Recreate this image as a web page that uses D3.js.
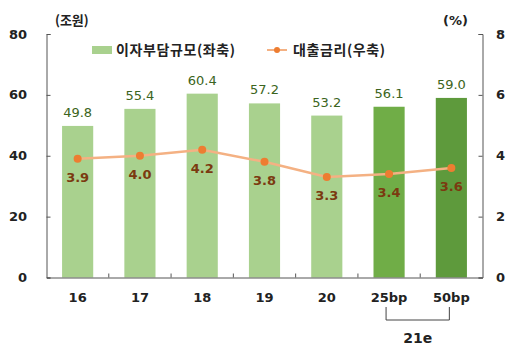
<!DOCTYPE html>
<html><head><meta charset="utf-8">
<script src="https://cdn.jsdelivr.net/npm/d3@7"></script>
<style>body{margin:0;background:#fff}svg{display:block;font-family:"DejaVu Sans",sans-serif}</style>
</head><body><svg id="c" width="512" height="355"></svg>
<script>
const categories = ["16","17","18","19","20","25bp","50bp"];
const burden = [49.8,55.4,60.4,57.2,53.2,56.1,59.0];
const rate = [3.9,4.0,4.2,3.8,3.3,3.4,3.6];
const leftTicks = [0,20,40,60,80];
const rightTicks = [0,2,4,6,8];
const barColors = ["#a9d18e","#a9d18e","#a9d18e","#a9d18e","#a9d18e","#70ad47","#5e9a3c"];

const svg = d3.select("#c");
const L=46.5, R=482.5, T=34, B=277.5;
const x = d3.scaleBand().domain(categories).range([L,R]).paddingInner(0.5).paddingOuter(0.25);
const yL = d3.scaleLinear().domain([0,80]).range([B,T]);
const yR = d3.scaleLinear().domain([0,8]).range([B,T]);

// bars
svg.selectAll("rect.bar").data(burden).join("rect")
  .attr("x",(d,i)=>x(categories[i])).attr("width",x.bandwidth())
  .attr("y",d=>yL(d)).attr("height",d=>B-yL(d)).attr("fill",(d,i)=>barColors[i]);

// axes
const axL = svg.append("g").attr("transform",`translate(${L},0)`)
  .call(d3.axisRight(yL).tickValues(leftTicks).tickSize(4).tickFormat(""));
const axR = svg.append("g").attr("transform",`translate(${R},0)`)
  .call(d3.axisLeft(yR).tickValues(rightTicks).tickSize(4).tickFormat(""));
[axL,axR].forEach(a=>{a.select(".domain").attr("stroke","#555");a.selectAll("line").attr("stroke","#555");});
// tick labels
svg.selectAll("text.yl").data(leftTicks).join("text").attr("class","yl")
  .attr("x",27).attr("y",d=>yL(d)).attr("dy","0.35em").attr("text-anchor","end")
  .attr("font-size",13).attr("font-weight","bold").attr("fill","#222").text(d=>d);
svg.selectAll("text.yr").data(rightTicks).join("text").attr("class","yr")
  .attr("x",496).attr("y",d=>yR(d)).attr("dy","0.35em").attr("text-anchor","start")
  .attr("font-size",13).attr("font-weight","bold").attr("fill","#222").text(d=>d);

// x axis
const step = x.step();
const ax = svg.append("g").attr("transform",`translate(0,${B})`)
  .call(d3.axisBottom(x).tickSize(0).tickPadding(15));
ax.select(".domain").attr("stroke","#555");
ax.selectAll("text").attr("font-size",13).attr("font-weight","bold").attr("fill","#222")
  .attr("font-family","DejaVu Sans");
svg.selectAll("line.xt").data(categories.slice(1)).join("line")
  .attr("x1",d=>x(d)+x.bandwidth()/2-step/2).attr("x2",d=>x(d)+x.bandwidth()/2-step/2)
  .attr("y1",B).attr("y2",B-4).attr("stroke","#555");

// line
const cx = i=>x(categories[i])+x.bandwidth()/2;
svg.append("path").datum(rate)
  .attr("d",d3.line().x((d,i)=>cx(i)).y(d=>yR(d)))
  .attr("fill","none").attr("stroke","#f4b183").attr("stroke-width",2.5);
svg.selectAll("circle.pt").data(rate).join("circle")
  .attr("cx",(d,i)=>cx(i)).attr("cy",d=>yR(d)).attr("r",4).attr("fill","#ed7d31");

// labels
svg.selectAll("text.bl").data(burden).join("text")
  .attr("x",(d,i)=>cx(i)).attr("y",d=>yL(d)-9).attr("text-anchor","middle")
  .attr("font-size",13).attr("fill","#3b6420").text(d=>d.toFixed(1));
svg.selectAll("text.rl").data(rate).join("text")
  .attr("x",(d,i)=>cx(i)).attr("y",d=>yR(d)+23).attr("text-anchor","middle")
  .attr("font-size",13).attr("font-weight","bold").attr("fill","#7b3a10").text(d=>d.toFixed(1));

// units
svg.append("text").attr("x",55).attr("y",25).attr("font-size",13).attr("font-weight","bold")
  .attr("font-family","Noto Sans CJK KR").attr("fill","#222").text("(조원)");
svg.append("text").attr("x",443).attr("y",25).attr("font-size",13).attr("font-weight","bold")
  .attr("fill","#222").text("(%)");

// legend
svg.append("rect").attr("x",92).attr("y",46).attr("width",20).attr("height",8).attr("fill","#a9d18e");
svg.append("text").attr("x",116).attr("y",55).attr("font-size",14).attr("font-weight","bold")
  .attr("letter-spacing",0.6)
  .attr("font-family","Noto Sans CJK KR").attr("fill","#222").text("이자부담규모(좌축)");
svg.append("line").attr("x1",267).attr("x2",287).attr("y1",50).attr("y2",50).attr("stroke","#f4b183").attr("stroke-width",2);
svg.append("circle").attr("cx",277).attr("cy",50).attr("r",3).attr("fill","#ed7d31");
svg.append("text").attr("x",293).attr("y",55).attr("font-size",14).attr("font-weight","bold")
  .attr("letter-spacing",0.6)
  .attr("font-family","Noto Sans CJK KR").attr("fill","#222").text("대출금리(우축)");

// bracket
const bx1 = cx(5)-3, bx2 = cx(6)-2;
svg.append("path").attr("d",`M${bx1},307V320H${bx2}V307`).attr("fill","none").attr("stroke","#444").attr("stroke-width",1);
svg.append("text").attr("x",(bx1+bx2)/2).attr("y",343).attr("text-anchor","middle")
  .attr("font-size",14).attr("font-weight","bold").attr("fill","#222").text("21e");
</script></body></html>
